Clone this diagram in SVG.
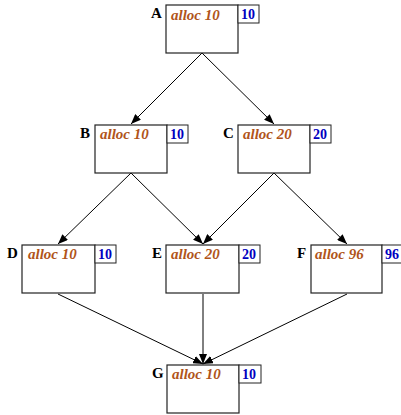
<svg xmlns="http://www.w3.org/2000/svg" width="401" height="415" viewBox="0 0 401 415">
<style>
.box{fill:#fff;stroke:#222;stroke-width:1.2}
.num{fill:#fff;stroke:#222;stroke-width:1}
.lab{font-family:"Liberation Serif",serif;font-weight:bold;font-size:15px;fill:#000}
.al{font-family:"Liberation Serif",serif;font-weight:bold;font-style:italic;font-size:15px;fill:#b0541a}
.n{font-family:"Liberation Serif",serif;font-weight:bold;font-size:14px;fill:#0000c0}
.e{stroke:#000;stroke-width:1;fill:none;marker-end:url(#ah)}
</style>
<defs>
<marker id="ah" markerWidth="10" markerHeight="8" refX="10" refY="4" orient="auto" markerUnits="userSpaceOnUse">
<path d="M0,0 L10,4 L0,8 Z" fill="#000"/>
</marker>
</defs>
<g id="edges">
<line class="e" x1="202" y1="53" x2="131" y2="124"/>
<line class="e" x1="202" y1="53" x2="274" y2="124"/>
<line class="e" x1="131" y1="173" x2="58" y2="244"/>
<line class="e" x1="131" y1="173" x2="203" y2="244"/>
<line class="e" x1="274" y1="173" x2="203" y2="244"/>
<line class="e" x1="274" y1="173" x2="347" y2="244"/>
<line class="e" x1="58" y1="294" x2="203" y2="364"/>
<line class="e" x1="203" y1="294" x2="203" y2="364"/>
<line class="e" x1="347" y1="294" x2="203" y2="364"/>
</g>
<g id="A">
<rect class="box" x="166" y="5" width="72" height="48"/>
<rect class="num" x="238" y="5" width="21" height="18"/>
<text class="lab" x="151" y="18">A</text>
<text class="al" x="171" y="20">alloc 10</text>
<text class="n" x="241" y="19">10</text>
</g>
<g id="B">
<rect class="box" x="95" y="125" width="72" height="48"/>
<rect class="num" x="167" y="125" width="21" height="18"/>
<text class="lab" x="80" y="138">B</text>
<text class="al" x="100" y="139">alloc 10</text>
<text class="n" x="170" y="139">10</text>
</g>
<g id="C">
<rect class="box" x="238" y="125" width="72" height="48"/>
<rect class="num" x="310" y="125" width="21" height="18"/>
<text class="lab" x="223" y="138">C</text>
<text class="al" x="243" y="139">alloc 20</text>
<text class="n" x="313" y="139">20</text>
</g>
<g id="D">
<rect class="box" x="22" y="245" width="73" height="48"/>
<rect class="num" x="95" y="245" width="21" height="18"/>
<text class="lab" x="7" y="258">D</text>
<text class="al" x="28" y="259">alloc 10</text>
<text class="n" x="98" y="259">10</text>
</g>
<g id="E">
<rect class="box" x="166" y="245" width="73" height="48"/>
<rect class="num" x="239" y="245" width="21" height="18"/>
<text class="lab" x="152" y="258">E</text>
<text class="al" x="171" y="259">alloc 20</text>
<text class="n" x="242" y="259">20</text>
</g>
<g id="F">
<rect class="box" x="311" y="245" width="71" height="48"/>
<rect class="num" x="382" y="245" width="21" height="18"/>
<text class="lab" x="297" y="258">F</text>
<text class="al" x="315" y="259">alloc 96</text>
<text class="n" x="385" y="259">96</text>
</g>
<g id="G">
<rect class="box" x="167" y="365" width="72" height="48"/>
<rect class="num" x="239" y="365" width="22" height="18"/>
<text class="lab" x="152" y="378">G</text>
<text class="al" x="172" y="379">alloc 10</text>
<text class="n" x="242" y="379">10</text>
</g>
</svg>
